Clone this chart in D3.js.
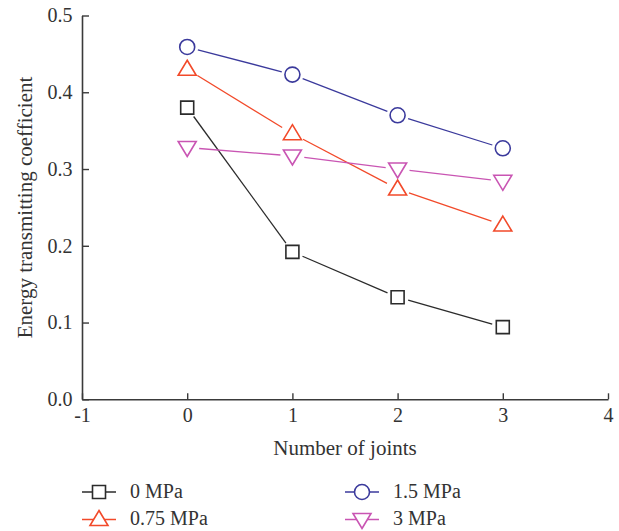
<!DOCTYPE html>
<html>
<head>
<meta charset="utf-8">
<script src="https://cdn.jsdelivr.net/npm/d3@7"></script>
<style>
  html, body { margin: 0; padding: 0; background: #fff; }
  svg { display: block; }
  text { font-family: "Liberation Serif", "DejaVu Serif", serif; fill: #333; }
</style>
</head>
<body>
<svg id="chart" width="619" height="531"></svg>
<script>
// Number of joints on the x axis
const joints = [0, 1, 2, 3];
// Energy transmitting coefficient for each confining stress
const seriesNames = ["0 MPa", "0.75 MPa", "1.5 MPa", "3 MPa"];
const valuesP0 = [0.380, 0.192, 0.133, 0.094];
const valuesP075 = [0.430, 0.346, 0.274, 0.227];
const valuesP15 = [0.459, 0.423, 0.370, 0.327];
const valuesP3 = [0.328, 0.317, 0.300, 0.284];
const xTicks = [-1, 0, 1, 2, 3, 4];
const yTicks = [0.0, 0.1, 0.2, 0.3, 0.4, 0.5];

const series = [
  { name: seriesNames[0], values: valuesP0, color: "#2b2b2b", shape: "square" },
  { name: seriesNames[1], values: valuesP075, color: "#f24a2a", shape: "triUp" },
  { name: seriesNames[2], values: valuesP15, color: "#3b3a9c", shape: "circle" },
  { name: seriesNames[3], values: valuesP3, color: "#c955b3", shape: "triDown" }
];

const svg = d3.select("#chart");
const x = d3.scaleLinear().domain([-1, 4]).range([82, 608]);
const y = d3.scaleLinear().domain([0, 0.5]).range([399.3, 15.5]);

// Axes with inward ticks
const axisColor = "#3a3a3a";
const gx = svg.append("g").attr("transform", `translate(0,${y(0)})`)
  .call(d3.axisBottom(x).tickValues(xTicks).tickFormat(d => String(d))
    .tickSizeInner(-6).tickSizeOuter(0).tickPadding(8.5));
const gy = svg.append("g").attr("transform", `translate(${x(-1)},0)`)
  .call(d3.axisLeft(y).tickValues(yTicks).tickFormat(d3.format(".1f"))
    .tickSizeInner(-7).tickSizeOuter(0).tickPadding(9.5));
[gx, gy].forEach(g => {
  g.select(".domain").attr("stroke", axisColor).attr("stroke-width", 1.6);
  g.selectAll(".tick line").attr("stroke", axisColor).attr("stroke-width", 1.4);
  g.selectAll(".tick text").attr("fill", "#333").attr("font-size", 20);
});

// Axis titles
svg.append("text")
  .attr("x", (x(-1) + x(4)) / 2).attr("y", 455)
  .attr("text-anchor", "middle").attr("font-size", 21)
  .text("Number of joints");
svg.append("text")
  .attr("transform", "translate(32,207.5) rotate(-90)")
  .attr("text-anchor", "middle").attr("font-size", 21)
  .text("Energy transmitting coefficient");

// Marker outlines, in local coordinates around the point
function markerPath(shape) {
  switch (shape) {
    case "square": return "M-6.5,-6.5H6.5V6.5H-6.5Z";
    case "circle": return "M-7.5,0A7.5,7.5 0 1,0 7.5,0A7.5,7.5 0 1,0 -7.5,0Z";
    case "triUp": return "M0,-9L9,6L-9,6Z";
    case "triDown": return "M0,9L9,-6L-9,-6Z";
  }
}
const markerRadius = { square: 8, circle: 8, triUp: 9, triDown: 9 };

// Connecting segments stop short of each marker
series.forEach(s => {
  const pts = s.values.map((v, i) => [x(joints[i]), y(v)]);
  const gap = markerRadius[s.shape] + 3;
  const g = svg.append("g");
  for (let i = 0; i < pts.length - 1; i++) {
    const [x1, y1] = pts[i], [x2, y2] = pts[i + 1];
    const len = Math.hypot(x2 - x1, y2 - y1);
    const ux = (x2 - x1) / len, uy = (y2 - y1) / len;
    g.append("line")
      .attr("x1", x1 + ux * gap).attr("y1", y1 + uy * gap)
      .attr("x2", x2 - ux * gap).attr("y2", y2 - uy * gap)
      .attr("stroke", s.color).attr("stroke-width", 1.3);
  }
  g.selectAll("path").data(pts).join("path")
    .attr("transform", d => `translate(${d[0]},${d[1]})`)
    .attr("d", markerPath(s.shape))
    .attr("fill", "none").attr("stroke", s.color).attr("stroke-width", 1.6);
});

// Legend
const legendPos = [
  { lx: 82, ly: 492 }, { lx: 82, ly: 519.5 },
  { lx: 345, ly: 492 }, { lx: 345, ly: 519.5 }
];
series.forEach((s, i) => {
  const p = legendPos[i];
  const g = svg.append("g").attr("transform", `translate(${p.lx},${p.ly})`);
  g.append("line").attr("x1", 0).attr("x2", 34).attr("y1", 0).attr("y2", 0)
    .attr("stroke", s.color).attr("stroke-width", 1.3);
  g.append("path").attr("transform", "translate(17,0)")
    .attr("d", markerPath(s.shape))
    .attr("fill", "#fff").attr("stroke", s.color).attr("stroke-width", 1.6);
  g.append("text").attr("x", 48).attr("y", 5.5).attr("font-size", 20).text(s.name);
});
</script>
</body>
</html>
